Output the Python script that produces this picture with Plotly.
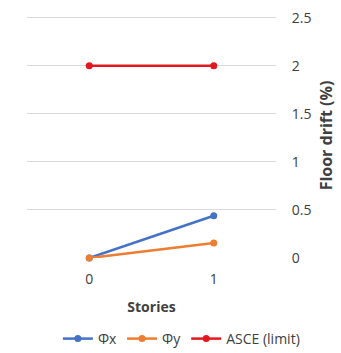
import plotly.graph_objects as go

# Storey drift data
stories = ["0", "1"]
drift_x = [0, 0.44]
drift_y = [0, 0.155]
asce_limit = [2, 2]

FONT = "Open Sans"
TXT = "#404040"

fig = go.Figure()
series = [
    ("Φx", drift_x, "#4472C4"),
    ("Φy", drift_y, "#ED7D31"),
    ("ASCE (limit)", asce_limit, "#E3181E"),
]
for name, vals, color in series:
    fig.add_trace(go.Scatter(
        x=stories, y=vals, name=name, mode="lines+markers",
        line=dict(color=color, width=2.5),
        marker=dict(color=color, size=7),
        cliponaxis=False,
    ))

fig.update_layout(
    width=341, height=353,
    margin=dict(l=27, r=65, t=13, b=95, autoexpand=False),
    paper_bgcolor="white", plot_bgcolor="white",
    font=dict(family=FONT, size=13, color=TXT),
    showlegend=True,
    legend=dict(orientation="h", x=0.62, xanchor="center",
                yref="container", y=1 - 339 / 353, yanchor="middle",
                font=dict(size=14, color=TXT), itemwidth=30, tracegroupgap=0,
                bgcolor="rgba(0,0,0,0)"),
    xaxis=dict(type="category", range=[-0.5, 1.5], showgrid=False, zeroline=False,
               showline=False, ticks="outside", ticklen=8, tickcolor="rgba(0,0,0,0)",
               tickfont=dict(size=14, color=TXT),
               title=dict(text="<b>Stories</b>", font=dict(size=14, color=TXT), standoff=15)),
    yaxis=dict(side="right", range=[0, 2.55], tickvals=[0, 0.5, 1, 1.5, 2, 2.5],
               showgrid=True, gridcolor="#D9D9D9", gridwidth=1, zeroline=False, showline=False,
               ticks="outside", ticklen=12, tickcolor="rgba(0,0,0,0)",
               tickfont=dict(size=14, color=TXT),
               title=dict(text="<b>Floor drift (%)</b>", font=dict(size=16, color=TXT), standoff=10)),
)

fig.write_html("out.html")
